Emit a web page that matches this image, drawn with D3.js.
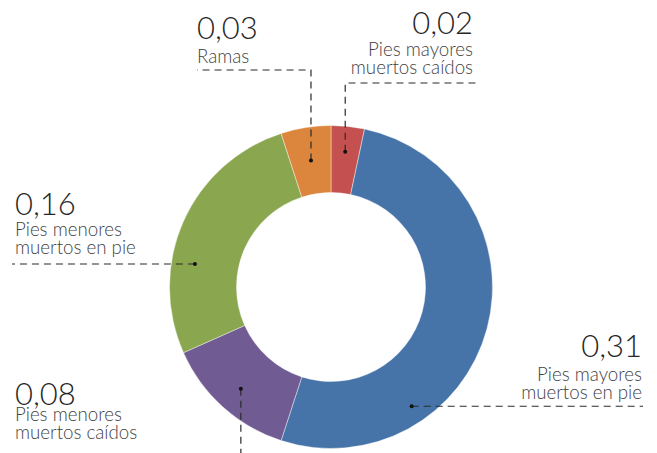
<!DOCTYPE html>
<html>
<head>
<meta charset="utf-8">
<script src="https://cdn.jsdelivr.net/npm/d3@7"></script>
<style>
  html, body { margin: 0; padding: 0; background: #ffffff; }
  svg { display: block; }
  .num { font-family: Lato, "Open Sans", sans-serif; font-weight: 300; fill: #262626; }
  .lbl { font-family: Lato, "Open Sans", sans-serif; font-weight: 300; fill: #3f3f3f; }
</style>
</head>
<body>
<svg id="chart" width="657" height="453"></svg>
<script>
// Composition of dead wood (clockwise from 12 o'clock)
const categories = [
  "Pies mayores muertos caídos",
  "Pies mayores muertos en pie",
  "Pies menores muertos caídos",
  "Pies menores muertos en pie",
  "Ramas"
];
const values = [0.02, 0.31, 0.08, 0.16, 0.03];
const colors = ["#C4514F", "#4674A9", "#705B92", "#8AA64E", "#DC853D"];
const labelLines = [
  ["Pies mayores", "muertos caídos"],
  ["Pies mayores", "muertos en pie"],
  ["Pies menores", "muertos caídos"],
  ["Pies menores", "muertos en pie"],
  ["Ramas"]
];

// Label placement: anchor on the ring (fraction of slice, radius), leader route, text block
const labelLayout = [
  { frac: 0.50, r: 136, route: [["v", 83], ["h", 478]], tx: 473, anchor: "end",   base: 34,  lineBase: [56, 74] },
  { frac: 0.72, r: 144, route: [["h", 643]],            tx: 642, anchor: "end",   base: 357, lineBase: [381, 399] },
  { frac: 0.49, r: 136, route: [["v", 460]],            tx: 15,  anchor: "start", base: 405, lineBase: [421, 439] },
  { frac: 0.35, r: 138, route: [["h", 12]],             tx: 15,  anchor: "start", base: 215, lineBase: [236, 254] },
  { frac: 0.50, r: 128, route: [["v", 70], ["h", 197]], tx: 197, anchor: "start", base: 39,  lineBase: [63] }
];

const fmt = v => d3.format(".2f")(v).replace(".", ",");

const svg = d3.select("#chart");
const cx = 331, cy = 287, outerR = 161.5, innerR = 94.5;

const pie = d3.pie().sort(null).value(d => d)(values);
const arc = d3.arc().innerRadius(innerR).outerRadius(outerR);

const g = svg.append("g").attr("transform", `translate(${cx},${cy})`);

g.selectAll("path.slice")
  .data(pie)
  .join("path")
  .attr("class", "slice")
  .attr("d", arc)
  .attr("fill", (d, i) => colors[i])
  .attr("stroke", "#ffffff")
  .attr("stroke-opacity", 0.6)
  .attr("stroke-width", 0.7);

// Leader lines and labels
pie.forEach((d, i) => {
  const L = labelLayout[i];
  const a = d.startAngle + (d.endAngle - d.startAngle) * L.frac;
  const ax = cx + L.r * Math.sin(a);
  const ay = cy - L.r * Math.cos(a);
  const pts = [[ax, ay]];
  let px = ax, py = ay;
  L.route.forEach(([dir, val]) => {
    if (dir === "v") py = val; else px = val;
    pts.push([px, py]);
  });
  svg.append("path")
    .attr("d", d3.line()(pts))
    .attr("fill", "none")
    .attr("stroke", "#2b2b2b")
    .attr("stroke-width", 1.2)
    .attr("stroke-dasharray", "7,5");
  svg.append("circle")
    .attr("cx", ax).attr("cy", ay).attr("r", 2)
    .attr("fill", "#111");

  // value and category name in one text block
  const t = svg.append("text")
    .attr("x", L.tx).attr("y", L.base)
    .attr("text-anchor", L.anchor);
  t.append("tspan")
    .attr("class", "num")
    .attr("x", L.tx).attr("y", L.base)
    .attr("font-size", 31)
    .text(fmt(values[i]));
  labelLines[i].forEach((line, k) => {
    t.append("tspan")
      .attr("class", "lbl")
      .attr("x", L.tx).attr("y", L.lineBase[k])
      .attr("font-size", 18.7)
      .text(line);
  });
});
</script>
</body>
</html>
